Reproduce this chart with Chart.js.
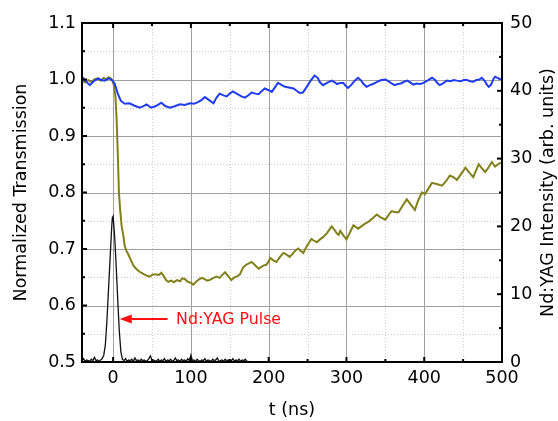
<!DOCTYPE html>
<html>
<head>
<meta charset="utf-8">
<script src="https://cdn.jsdelivr.net/npm/chart.js@4/dist/chart.umd.min.js"></script>
<style>
html, body { margin: 0; padding: 0; background: #fff; }
</style>
</head>
<body>
<canvas id="myChart" width="558" height="421"></canvas>
<script>
// probe transmission (blue), left axis
var tBlue = [-40, -36, -30, -25, -19, -15, -11, -6, -2, 2, 6, 10, 15, 21, 27, 34, 39, 43, 49, 55, 62, 67, 73, 80, 86, 92, 99, 104, 109, 114, 118, 123, 129, 133, 137, 142, 146, 150, 154, 160, 165, 169.5, 174, 178, 183, 187, 191, 195, 200, 204, 208, 212, 217, 221, 226, 232, 236, 240, 244, 249, 254, 259, 263, 266, 270, 275, 281, 285, 288, 292, 296, 299, 302, 306, 310, 315, 319, 322, 326, 330, 334, 337, 341, 345, 350, 354, 358, 362, 366, 370, 374, 378, 382, 386, 390, 395, 399, 404, 410, 414, 418, 420, 424, 429, 434, 438, 442, 447, 451, 455, 459, 463, 467, 471, 474, 478, 481, 483, 486, 489, 491, 494, 497, 500];
var blue = [1.005, 0.998, 0.99, 0.997, 1.002, 0.999, 0.998, 1.002, 1.0, 0.993, 0.975, 0.962, 0.957, 0.958, 0.954, 0.95, 0.953, 0.956, 0.95, 0.953, 0.959, 0.953, 0.95, 0.953, 0.956, 0.955, 0.958, 0.957, 0.96, 0.964, 0.969, 0.964, 0.958, 0.968, 0.975, 0.972, 0.97, 0.975, 0.979, 0.974, 0.97, 0.968, 0.972, 0.977, 0.975, 0.974, 0.979, 0.984, 0.981, 0.978, 0.986, 0.994, 0.99, 0.987, 0.986, 0.984, 0.98, 0.976, 0.977, 0.987, 0.998, 1.007, 1.003, 0.995, 0.99, 0.994, 0.998, 0.995, 0.992, 0.994, 0.994, 0.989, 0.985, 0.99, 0.997, 1.003, 0.998, 0.992, 0.987, 0.99, 0.992, 0.994, 0.997, 0.999, 1.0, 0.997, 0.993, 0.99, 0.992, 0.993, 0.996, 0.998, 0.995, 0.991, 0.993, 0.992, 0.994, 0.998, 1.003, 0.999, 0.992, 0.99, 0.993, 0.998, 0.997, 0.999, 0.998, 0.997, 0.999, 0.999, 0.997, 0.996, 0.999, 1.0, 1.003, 0.997, 0.99, 0.987, 0.991, 1.001, 1.005, 1.003, 1.001, 1.0];

// probe transmission (olive), left axis
var tOlive = [-40, -36, -32, -28, -24, -20, -16, -12, -9, -6, -3, -1, 1, 3, 4.5, 6, 7.5, 9, 11, 13, 15, 17, 19, 22, 26, 29, 32, 36, 40, 43, 47, 51, 56, 59, 62, 65, 68, 71, 75, 78, 82, 86, 89, 92, 96, 100, 103, 106, 110, 114, 117, 121, 124, 128, 133, 137, 141, 144, 148, 152, 156, 160, 163, 167, 171, 174, 178, 182, 187, 190, 194, 197, 200, 202, 206, 210, 214, 219, 223, 227, 230, 234, 238, 241, 244.5, 249, 255, 258, 262, 266, 270, 275, 281, 285, 288, 290, 292, 296, 300, 304, 309, 312, 315, 320, 324, 329, 334, 339, 344, 350, 354, 358, 363, 367, 372, 377.6, 382, 388, 392, 397, 401, 405, 410, 416, 423, 428, 433, 438, 442, 447, 453, 458, 463, 467, 470, 474, 478.5, 483, 487, 491, 495, 500];
var olive = [0.998, 0.995, 0.999, 0.996, 1.0, 1.002, 0.998, 1.003, 1.0, 1.004, 1.002, 0.998, 0.99, 0.97, 0.93, 0.87, 0.80, 0.77, 0.74, 0.725, 0.705, 0.697, 0.692, 0.683, 0.671, 0.666, 0.662, 0.658, 0.655, 0.653, 0.651, 0.655, 0.655, 0.654, 0.658, 0.652, 0.645, 0.642, 0.644, 0.641, 0.645, 0.643, 0.648, 0.647, 0.642, 0.640, 0.637, 0.641, 0.646, 0.649, 0.647, 0.644, 0.645, 0.648, 0.651, 0.649, 0.655, 0.659, 0.652, 0.645, 0.65, 0.652, 0.655, 0.667, 0.672, 0.674, 0.677, 0.672, 0.665, 0.668, 0.671, 0.672, 0.678, 0.684, 0.68, 0.677, 0.685, 0.693, 0.69, 0.686, 0.69, 0.697, 0.701, 0.697, 0.693, 0.705, 0.718, 0.715, 0.712, 0.717, 0.721, 0.728, 0.740, 0.733, 0.727, 0.725, 0.732, 0.724, 0.717, 0.728, 0.742, 0.739, 0.736, 0.741, 0.745, 0.749, 0.755, 0.761, 0.756, 0.752, 0.76, 0.767, 0.765, 0.765, 0.776, 0.788, 0.78, 0.769, 0.785, 0.800, 0.797, 0.806, 0.817, 0.815, 0.812, 0.82, 0.830, 0.827, 0.822, 0.832, 0.844, 0.835, 0.827, 0.84, 0.850, 0.843, 0.836, 0.845, 0.854, 0.846, 0.85, 0.854];

// Nd:YAG pulse, right axis
var tPulse = [-40, -38, -36, -34, -32, -30, -28, -26, -24, -22, -20, -18, -16, -14, -12, -10, -8, -6, -4, -2, -1, 0, 2, 4, 6, 8, 10, 12, 14, 16, 18, 20, 22, 24, 26, 28, 30, 32, 34, 36, 38, 40, 42, 44, 46, 48, 50, 52, 54, 56, 58, 60, 62, 64, 66, 68, 70, 72, 74, 76, 78, 80, 82, 84, 86, 88, 90, 92, 94, 96, 98, 100, 102, 104, 106, 108, 110, 112, 114, 116, 118, 120, 122, 124, 126, 128, 130, 132, 134, 136, 138, 140, 142, 144, 146, 148, 150, 152, 154, 156, 158, 160, 162, 164, 166, 168, 170, 172, 174];
var pulse = [0.2, 0.5, 0.1, 0.3, 0.2, 0.1, 0.4, 0.2, 0.7, 0.2, 0.3, 0.1, 0.3, 0.5, 1.0, 2.5, 6, 10.5, 15, 19.5, 21.3, 21.5, 18.5, 14, 9, 4.5, 1.5, 0.4, 0.2, 0.5, 0.1, 0.3, 0.2, 0.4, 0.1, 0.6, 0.2, 0.3, 0.1, 0.4, 0.2, 0.3, 0.1, 0.2, 0.5, 0.9, 0.2, 0.3, 0.1, 0.2, 0.4, 0.1, 0.3, 0.2, 0.5, 0.1, 0.3, 0.2, 0.4, 0.1, 0.2, 0.6, 0.2, 0.3, 0.1, 0.4, 0.2, 0.3, 0.1, 0.5, 0.2, 1.0, 0.2, 0.3, 0.1, 0.4, 0.2, 0.1, 0.3, 0.2, 0.5, 0.1, 0.3, 0.2, 0.1, 0.4, 0.2, 0.3, 0.6, 0.1, 0.2, 0.3, 0.1, 0.4, 0.2, 0.3, 0.1, 0.2, 0.5, 0.1, 0.3, 0.2, 0.4, 0.1, 0.3, 0.2, 0.4, 0.1, 0.1];

// ticks
var xTicks = [0, 100, 200, 300, 400, 500];
var xMinor = [50, 150, 250, 350, 450];
var yTicks = [0.5, 0.6, 0.7, 0.8, 0.9, 1.0, 1.1];
var yMinor = [0.55, 0.65, 0.75, 0.85, 0.95, 1.05];
var y1Ticks = [0, 10, 20, 30, 40, 50];
var y1Minor = [5, 15, 25, 35, 45];

var FONT = 'DejaVu Sans';

function pts(t, v) {
    return t.map(function (x, i) { return { x: x, y: v[i] }; });
}
function setTicks(list) {
    return function (scale) { scale.ticks = list.map(function (v) { return { value: v }; }); };
}
function seg(c, x1, y1, x2, y2) {
    c.beginPath(); c.moveTo(x1, y1); c.lineTo(x2, y2); c.stroke();
}

var framePlugin = {
    id: 'framePlugin',
    beforeDatasetsDraw: function (chart) {
        var c = chart.ctx, a = chart.chartArea, x = chart.scales.x, y = chart.scales.y;
        c.save();
        c.lineWidth = 1;
        c.strokeStyle = '#cfcfcf';
        c.setLineDash([1, 2]);
        xMinor.forEach(function (v) { var p = Math.round(x.getPixelForValue(v)) + 0.5; seg(c, p, a.top, p, a.bottom); });
        yMinor.forEach(function (v) { var p = Math.round(y.getPixelForValue(v)) + 0.5; seg(c, a.left, p, a.right, p); });
        c.setLineDash([]);
        c.strokeStyle = '#a0a0a0';
        xTicks.slice(0, -1).forEach(function (v) { var p = Math.round(x.getPixelForValue(v)) + 0.5; seg(c, p, a.top, p, a.bottom); });
        yTicks.slice(1, -1).forEach(function (v) { var p = Math.round(y.getPixelForValue(v)) + 0.5; seg(c, a.left, p, a.right, p); });
        c.restore();
    },
    afterDatasetsDraw: function (chart) {
        var c = chart.ctx, a = chart.chartArea, x = chart.scales.x, y = chart.scales.y, y1 = chart.scales.y1;
        c.save();
        c.strokeStyle = '#000';
        c.lineWidth = 2;
        c.strokeRect(a.left, a.top, a.right - a.left, a.bottom - a.top);
        // inward ticks
        function xt(list, len) {
            list.forEach(function (v) {
                var p = x.getPixelForValue(v);
                seg(c, p, a.bottom, p, a.bottom - len);
                seg(c, p, a.top, p, a.top + len);
            });
        }
        xt(xTicks, 5); xt(xMinor, 3);
        yTicks.forEach(function (v) { var p = y.getPixelForValue(v); seg(c, a.left, p, a.left + 5, p); });
        yMinor.forEach(function (v) { var p = y.getPixelForValue(v); seg(c, a.left, p, a.left + 3, p); });
        y1Ticks.forEach(function (v) { var p = y1.getPixelForValue(v); seg(c, a.right, p, a.right - 5, p); });
        y1Minor.forEach(function (v) { var p = y1.getPixelForValue(v); seg(c, a.right, p, a.right - 3, p); });

        // arrow annotation
        var ay = y.getPixelForValue(0.576);
        var tip = x.getPixelForValue(8.5), tail = x.getPixelForValue(70);
        c.strokeStyle = '#ff1010';
        c.fillStyle = '#ff1010';
        c.lineWidth = 2;
        seg(c, tail, ay, tip + 8, ay);
        c.beginPath();
        c.moveTo(tip, ay);
        c.lineTo(tip + 12, ay - 4.5);
        c.lineTo(tip + 12, ay + 4.5);
        c.closePath();
        c.fill();
        c.font = '15.8px "' + FONT + '"';
        c.textAlign = 'left';
        c.textBaseline = 'middle';
        c.fillText('Nd:YAG Pulse', x.getPixelForValue(81), ay + 1);

        // right axis title, reading upwards
        c.fillStyle = '#000';
        c.font = '17.5px "' + FONT + '"';
        c.translate(548, (a.top + a.bottom) / 2);
        c.rotate(-Math.PI / 2);
        c.textAlign = 'center';
        c.fillText('Nd:YAG Intensity (arb. units)', 0, 0);
        c.restore();
    }
};

var ctx = document.getElementById('myChart').getContext('2d');
var myChart = new Chart(ctx, {
    type: 'line',
    data: {
        datasets: [{
            data: pts(tBlue, blue),
            borderColor: '#1f3cf2',
            borderWidth: 2,
            yAxisID: 'y'
        }, {
            data: pts(tOlive, olive),
            borderColor: '#82801a',
            borderWidth: 2,
            yAxisID: 'y'
        }, {
            data: pts(tPulse, pulse),
            borderColor: '#111111',
            borderWidth: 1.3,
            yAxisID: 'y1'
        }]
    },
    options: {
        responsive: false,
        animation: false,
        events: [],
        elements: { point: { radius: 0 }, line: { tension: 0 } },
        layout: { padding: { top: 23, left: 0, right: 0, bottom: 0 } },
        plugins: { legend: { display: false }, tooltip: { enabled: false } },
        scales: {
            x: {
                type: 'linear',
                min: -40,
                max: 500,
                afterBuildTicks: setTicks(xTicks),
                afterFit: function (s) { s.height = 59; },
                grid: { display: false, drawTicks: false },
                border: { display: false },
                ticks: { padding: 6, color: '#000', font: { family: FONT, size: 17.5 }, maxRotation: 0 },
                title: { display: true, text: 't (ns)', color: '#000', font: { family: FONT, size: 17.5 }, padding: { top: 0, bottom: 0 } }
            },
            y: {
                position: 'left',
                min: 0.5,
                max: 1.1,
                afterBuildTicks: setTicks(yTicks),
                afterFit: function (s) { s.width = 82; },
                grid: { display: false, drawTicks: false },
                border: { display: false },
                ticks: { padding: 6, color: '#000', font: { family: FONT, size: 17.5 }, callback: function (v) { return v.toFixed(1); } },
                title: { display: true, text: 'Normalized Transmission', color: '#000', font: { family: FONT, size: 17.5 }, padding: { top: 11, bottom: 0 } }
            },
            y1: {
                position: 'right',
                min: 0,
                max: 50,
                afterBuildTicks: setTicks(y1Ticks),
                afterFit: function (s) { s.width = 56; },
                grid: { display: false, drawTicks: false },
                border: { display: false },
                ticks: { padding: 8, color: '#000', font: { family: FONT, size: 17.5 } }
            }
        }
    },
    plugins: [framePlugin]
});
</script>
</body>
</html>
